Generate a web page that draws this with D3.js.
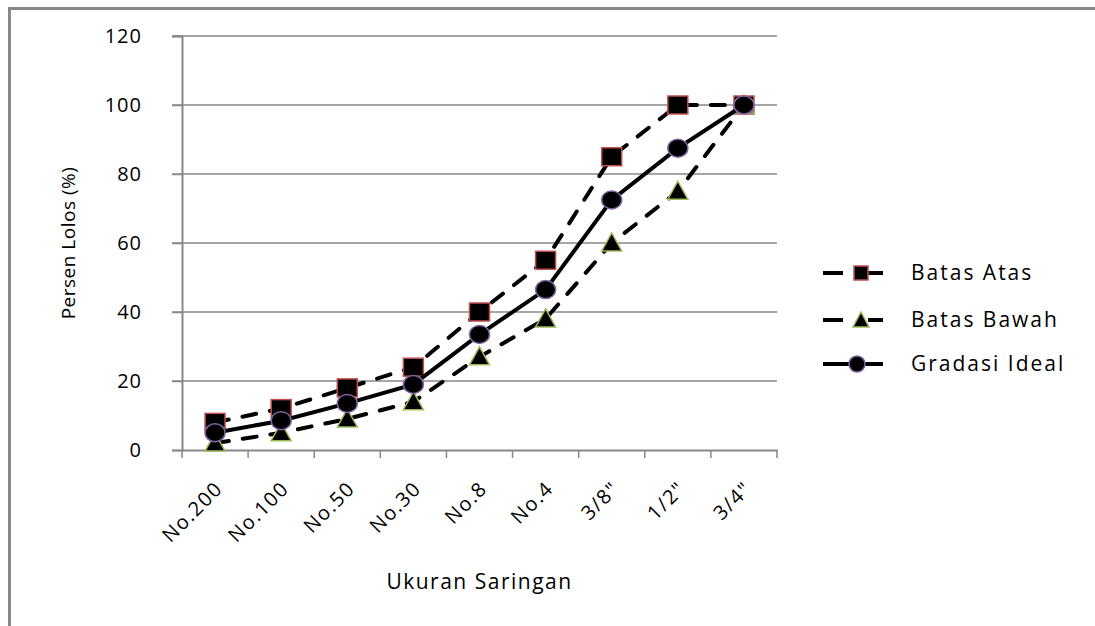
<!DOCTYPE html>
<html>
<head>
<meta charset="utf-8">
<script src="https://cdn.jsdelivr.net/npm/d3@7"></script>
<style>
  body { margin: 0; background: #fff; }
  text { font-family: "Open Sans", "Noto Sans", sans-serif; fill: #000; }
</style>
</head>
<body id="body">
<script>
// data
var saringan = ["No.200", "No.100", "No.50", "No.30", "No.8", "No.4", "3/8\"", "1/2\"", "3/4\""];
var batasAtas = [8, 12, 18, 24, 40, 55, 85, 100, 100];
var batasBawah = [2, 5, 9, 14, 27, 38, 60, 75, 100];
var gradasiIdeal = [5, 8.5, 13.5, 19, 33.5, 46.5, 72.5, 87.5, 100];
var yTicks = [0, 20, 40, 60, 80, 100, 120];

var series = [
    { name: "Batas Atas", values: batasAtas, dash: "14,14", marker: "square", edge: "#c0504d" },
    { name: "Batas Bawah", values: batasBawah, dash: "14,14", marker: "triangle", edge: "#9bbb59" },
    { name: "Gradasi Ideal", values: gradasiIdeal, dash: null, marker: "circle", edge: "#8064a2" }
];

var W = 1095, H = 626;
var plotLeft = 182, plotRight = 777, plotTop = 36, plotBottom = 450;

var svg = d3.select("body").append("svg")
    .attr("width", W)
    .attr("height", H);

// outer frame, runs off the right and bottom edge
svg.append("rect")
    .attr("x", 9.5).attr("y", 8.5)
    .attr("width", 1200).attr("height", 800)
    .attr("fill", "none")
    .attr("stroke", "#888")
    .attr("stroke-width", 3);

var x = d3.scaleBand().domain(saringan).range([plotLeft, plotRight]);
var y = d3.scaleLinear().domain([0, 120]).range([plotBottom, plotTop]);

// grid lines
svg.append("g").selectAll("line")
    .data(yTicks.filter(function (d) { return d > 0; }))
    .enter().append("line")
    .attr("x1", plotLeft - 10).attr("x2", plotRight)
    .attr("y1", function (d) { return y(d); })
    .attr("y2", function (d) { return y(d); })
    .attr("stroke", "#888")
    .attr("stroke-width", 1.5);

// y axis
var yAxis = svg.append("g")
    .attr("transform", "translate(" + plotLeft + ",0)")
    .call(d3.axisLeft(y).tickValues(yTicks).tickSize(10).tickPadding(30));
yAxis.select(".domain").attr("stroke", "#888").attr("stroke-width", 2);
yAxis.selectAll(".tick line").attr("stroke", "#888").attr("stroke-width", 1.5);
yAxis.selectAll("text")
    .attr("font-size", 20)
    .attr("letter-spacing", 1)
    .attr("font-family", "'DejaVu Sans', sans-serif")
    .attr("fill", "#000");

// x axis
var xAxis = svg.append("g")
    .attr("transform", "translate(0," + plotBottom + ")")
    .call(d3.axisBottom(x).tickSize(0).tickSizeOuter(0));
xAxis.select(".domain").attr("stroke", "#888").attr("stroke-width", 2);
xAxis.selectAll(".tick text")
    .attr("font-size", 20)
    .attr("letter-spacing", 1.5)
    .attr("fill", "#000")
    .attr("text-anchor", "end")
    .attr("transform", "translate(4,35) rotate(-45)")
    .attr("dy", "0.35em")
    .attr("y", 0);

// category boundary ticks
var bounds = saringan.map(function (d) { return x(d); }).concat([plotRight]);
svg.append("g").selectAll("line")
    .data(bounds)
    .enter().append("line")
    .attr("x1", function (d) { return d; })
    .attr("x2", function (d) { return d; })
    .attr("y1", plotBottom).attr("y2", plotBottom + 8)
    .attr("stroke", "#888")
    .attr("stroke-width", 1.5);

// axis titles
svg.append("text")
    .attr("transform", "translate(68," + (plotTop + plotBottom) / 2 + ") rotate(-90)")
    .attr("text-anchor", "middle")
    .attr("dy", "0.35em")
    .attr("font-size", 19)
    .attr("letter-spacing", 0.5)
    .text("Persen Lolos (%)");

svg.append("text")
    .attr("x", (plotLeft + plotRight) / 2)
    .attr("y", 582)
    .attr("text-anchor", "middle")
    .attr("dy", "0.35em")
    .attr("font-size", 21)
    .attr("letter-spacing", 1.5)
    .text("Ukuran Saringan");

var line = d3.line()
    .x(function (d, i) { return x(saringan[i]) + x.bandwidth() / 2; })
    .y(function (d) { return y(d); });

function drawMarker(g, s, cx, cy) {
    if (s.marker == "square") {
        g.append("rect")
            .attr("x", cx - 10).attr("y", cy - 9)
            .attr("width", 20).attr("height", 18)
            .attr("fill", "#000")
            .attr("stroke", s.edge).attr("stroke-width", 1.5);
    } else if (s.marker == "triangle") {
        g.append("path")
            .attr("d", "M" + cx + "," + (cy - 10) + "L" + (cx + 10) + "," + (cy + 8) + "L" + (cx - 10) + "," + (cy + 8) + "Z")
            .attr("fill", "#000")
            .attr("stroke", s.edge).attr("stroke-width", 1.5);
    } else {
        g.append("ellipse")
            .attr("cx", cx).attr("cy", cy)
            .attr("rx", 10).attr("ry", 9)
            .attr("fill", "#000")
            .attr("stroke", s.edge).attr("stroke-width", 1.5);
    }
}

series.forEach(function (s) {
    var g = svg.append("g").attr("class", "series");
    g.append("path")
        .datum(s.values)
        .attr("d", line)
        .attr("fill", "none")
        .attr("stroke", "#000")
        .attr("stroke-width", 4)
        .attr("stroke-linecap", "round")
        .attr("stroke-dasharray", s.dash);
    s.values.forEach(function (v, i) {
        drawMarker(g, s, x(saringan[i]) + x.bandwidth() / 2, y(v));
    });
});

// legend
var legendY = [273, 320, 364];
series.forEach(function (s, i) {
    var g = svg.append("g").attr("transform", "translate(0," + legendY[i] + ")");
    g.append("line")
        .attr("x1", 823).attr("x2", 883)
        .attr("y1", 0).attr("y2", 0)
        .attr("stroke", "#000")
        .attr("stroke-width", 4)
        .attr("stroke-dasharray", s.dash ? "20,25" : null);
    if (s.marker == "circle") {
        g.append("ellipse").attr("cx", 857).attr("cy", 0).attr("rx", 8).attr("ry", 8)
            .attr("fill", "#000").attr("stroke", s.edge).attr("stroke-width", 1.5);
    } else if (s.marker == "square") {
        g.append("rect").attr("x", 854).attr("y", -7).attr("width", 14).attr("height", 14)
            .attr("fill", "#000").attr("stroke", s.edge).attr("stroke-width", 1.5);
    } else {
        g.append("path").attr("d", "M861,-8L869,7L853,7Z")
            .attr("fill", "#000").attr("stroke", s.edge).attr("stroke-width", 1.5);
    }
    g.append("text")
        .attr("x", 911).attr("y", 0)
        .attr("dy", "0.35em")
        .attr("font-size", 21)
        .attr("letter-spacing", 2)
        .text(s.name);
});
</script>
</body>
</html>
